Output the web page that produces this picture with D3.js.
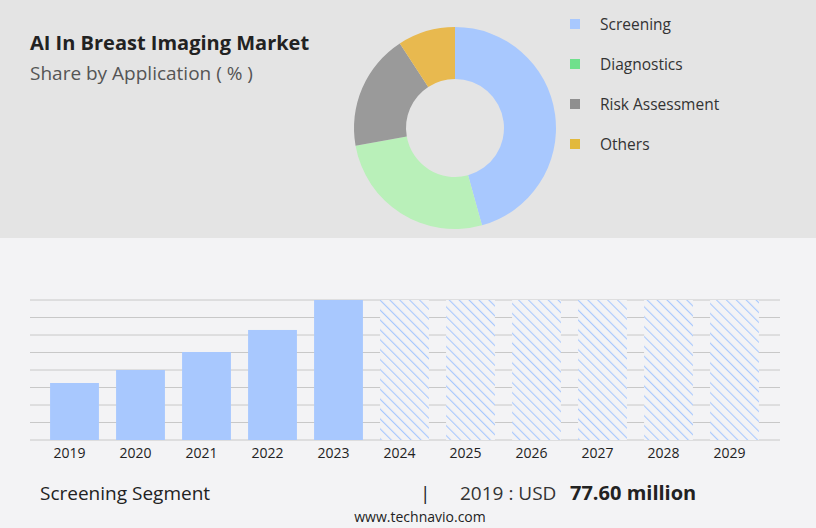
<!DOCTYPE html>
<html><head><meta charset="utf-8">
<script src="https://cdn.jsdelivr.net/npm/d3@7"></script>
<style>body{margin:0;font-family:"Open Sans",sans-serif}</style>
</head><body>
<svg width="816" height="528"></svg>
<script>
var segments = ["Screening", "Diagnostics", "Risk Assessment", "Others"];
var shares = [45.7, 26.5, 18.6, 9.2];
var segColors = ["#a8c8fe", "#b9f0b9", "#9a9a9a", "#e8b94f"];
var legendColors = ["#a8c8fe", "#6fe08c", "#8f8f8f", "#e2b93c"];
var years = ["2019","2020","2021","2022","2023","2024","2025","2026","2027","2028","2029"];
var values = [77.6, 95.3, 119.8, 149.8, 190.6, 190.6, 190.6, 190.6, 190.6, 190.6, 190.6];
var forecastFrom = 2024;

var svg = d3.select("svg");
svg.append("rect").attr("width", 816).attr("height", 528).attr("fill", "#f3f3f5");
svg.append("rect").attr("width", 816).attr("height", 238).attr("fill", "#e4e4e4");

svg.append("text").attr("x", 30).attr("y", 50).attr("font-size", 20).attr("font-weight", "bold")
  .attr("fill", "#222").text("AI In Breast Imaging Market");
svg.append("text").attr("x", 30).attr("y", 80).attr("font-size", 19).attr("fill", "#555")
  .text("Share by Application ( % )");

// donut
var pie = d3.pie().sort(null)(shares);
var arc = d3.arc().innerRadius(49).outerRadius(101);
svg.append("g").attr("transform", "translate(455,128)")
  .selectAll("path").data(pie).enter().append("path")
  .attr("d", arc).attr("fill", function (d, i) { return segColors[i]; });

// legend
var lg = svg.append("g").selectAll("g").data(segments).enter().append("g")
  .attr("transform", function (d, i) { return "translate(570," + (24 + i * 40) + ")"; });
lg.append("rect").attr("x", 0).attr("y", -5).attr("width", 10).attr("height", 10)
  .attr("fill", function (d, i) { return legendColors[i]; });
lg.append("text").attr("x", 30).attr("y", 5.5).attr("font-size", 15.5).attr("fill", "#333")
  .text(function (d) { return d; });

// bars
var defs = svg.append("defs");
var pat = defs.append("pattern").attr("id", "hatch").attr("patternUnits", "userSpaceOnUse")
  .attr("width", 7).attr("height", 7).attr("patternTransform", "rotate(-45)");
pat.append("rect").attr("width", 7).attr("height", 7).attr("fill", "#f3f3f5");
pat.append("line").attr("x1", 0).attr("y1", 0).attr("x2", 0).attr("y2", 7)
  .attr("stroke", "#a8c8fe").attr("stroke-width", 2.2);

var x = d3.scaleBand().domain(years).range([41.5, 767.5]).paddingInner(0.26).paddingOuter(0.13);
var y = d3.scaleLinear().domain([0, 190.6]).range([440, 300]);

var grid = d3.range(0, 9).map(function (i) { return 190.6 * i / 8; });
svg.append("g").selectAll("line").data(grid).enter().append("line")
  .attr("x1", 30).attr("x2", 780)
  .attr("y1", function (d) { return y(d); }).attr("y2", function (d) { return y(d); })
  .attr("stroke", "#c8c8c8").attr("stroke-width", 1);

svg.append("g").selectAll("rect").data(years).enter().append("rect")
  .attr("x", function (d) { return x(d); })
  .attr("width", x.bandwidth())
  .attr("y", function (d, i) { return y(values[i]); })
  .attr("height", function (d, i) { return y(0) - y(values[i]); })
  .attr("fill", function (d) { return +d >= forecastFrom ? "url(#hatch)" : "#a8c8fe"; });

var ax = svg.append("g").attr("transform", "translate(-5,440)")
  .call(d3.axisBottom(x).tickSize(0).tickPadding(8));
ax.select(".domain").remove();
ax.selectAll("text").attr("font-size", 14).attr("fill", "#222").attr("font-family", "Open Sans, sans-serif");

// footer
svg.append("text").attr("x", 40).attr("y", 500).attr("font-size", 19).attr("fill", "#222").text("Screening Segment");
svg.append("text").attr("x", 420).attr("y", 500).attr("font-size", 19).attr("fill", "#222").text("|");
svg.append("text").attr("x", 460).attr("y", 500).attr("font-size", 19).attr("fill", "#333").text("2019 : USD");
svg.append("text").attr("x", 570).attr("y", 500).attr("font-size", 20).attr("font-weight", "bold")
  .attr("fill", "#222").text("77.60 million");
svg.append("text").attr("x", 420).attr("y", 522).attr("text-anchor", "middle").attr("font-size", 14)
  .attr("fill", "#222").text("www.technavio.com");
</script>
</body></html>
